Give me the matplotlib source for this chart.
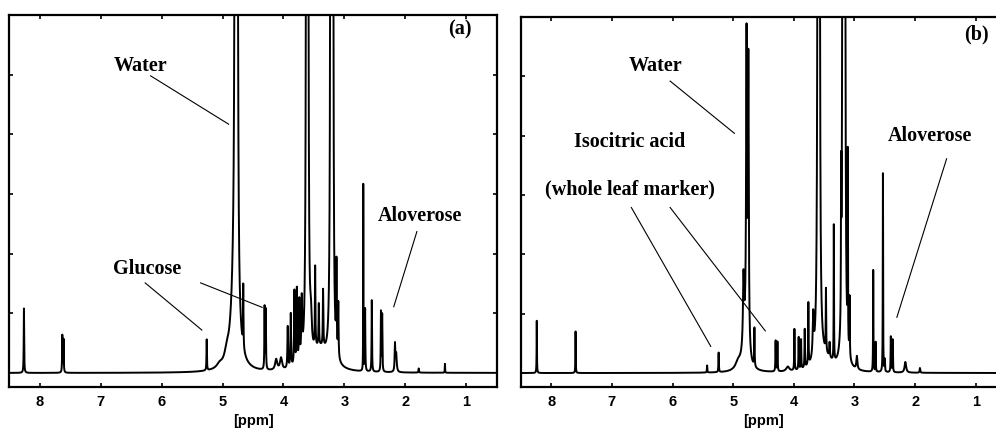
import numpy as np
import matplotlib
matplotlib.use("Agg")
import matplotlib.pyplot as plt

# peak tables: position [ppm], height, half width [ppm]
# (a) gel
ppm_a = [8.26, 7.63, 7.61, 5.26, 4.93, 4.80, 4.79, 4.76, 4.66, 4.31, 4.29, 4.12, 4.04,
         3.93, 3.88, 3.82, 3.78, 3.74, 3.70, 3.62, 3.60, 3.55, 3.48, 3.42, 3.35,
         3.22, 3.19, 3.23, 3.13, 3.10, 3.40, 2.69, 2.66, 2.55, 2.40, 2.38, 2.17,
         2.15, 1.78, 1.35, 5.05]
h_a = [1.08, 0.62, 0.55, 0.52, 0.15, 1.5, 22.0, 20.0, 1.05, 1.05, 1.0, 0.18, 0.2,
       0.7, 0.9, 1.25, 1.25, 1.0, 0.95, 30.0, 26.0, 0.5, 1.35, 0.7, 0.95,
       30.0, 24.0, 2.6, 1.45, 0.9, 0.35, 3.15, 1.05, 1.2, 1.0, 0.95, 0.45,
       0.3, 0.07, 0.15, 0.06]
w_a = [0.004, 0.004, 0.004, 0.004, 0.04, 0.06, 0.008, 0.008, 0.004, 0.004, 0.004, 0.02, 0.02,
       0.006, 0.006, 0.006, 0.006, 0.006, 0.008, 0.006, 0.006, 0.015, 0.005, 0.005, 0.005,
       0.006, 0.006, 0.006, 0.005, 0.005, 0.15, 0.002, 0.004, 0.004, 0.004, 0.004, 0.006,
       0.01, 0.005, 0.003, 0.05]

# (b) whole leaf
ppm_b = [8.24, 7.60, 5.43, 5.24, 4.92, 4.80, 4.83, 4.78, 4.75, 4.65, 4.30, 4.27, 4.10,
         3.99, 3.92, 3.88, 3.82, 3.76, 3.68, 3.60, 3.58, 3.47, 3.41, 3.34, 3.22,
         3.19, 3.16, 3.11, 3.08, 2.96, 2.69, 2.65, 2.53, 2.50, 2.40, 2.37, 2.16,
         1.92, 3.50]
h_b = [0.88, 0.7, 0.12, 0.33, 0.12, 0.6, 1.1, 5.0, 4.8, 0.65, 0.52, 0.5, 0.08,
       0.7, 0.55, 0.5, 0.65, 1.05, 0.7, 30.0, 28.0, 1.05, 0.25, 2.3, 2.25,
       30.0, 28.0, 3.2, 1.0, 0.22, 1.72, 0.5, 3.36, 0.2, 0.6, 0.55, 0.18,
       0.08, 0.22]
w_b = [0.003, 0.003, 0.004, 0.004, 0.05, 0.05, 0.01, 0.008, 0.008, 0.004, 0.004, 0.004, 0.03,
       0.004, 0.004, 0.004, 0.004, 0.004, 0.01, 0.006, 0.006, 0.004, 0.006, 0.003, 0.003,
       0.006, 0.006, 0.003, 0.004, 0.01, 0.003, 0.003, 0.003, 0.004, 0.004, 0.004, 0.015,
       0.006, 0.15]

ticks = [8, 7, 6, 5, 4, 3, 2, 1]


def spectrum(x, pos, hts, wid):
    y = np.zeros_like(x)
    for p, h, w in zip(pos, hts, wid):
        y += h * w ** 2 / ((x - p) ** 2 + w ** 2)
    return y


serif = {"family": "Liberation Serif", "weight": "bold", "size": 14.5}
W, H = 996, 430
fig = plt.figure(figsize=(W / 100, H / 100), dpi=100)

ax_a = fig.add_axes([9.3 / W, 43 / H, 487.4 / W, 372 / H])
ax_b = fig.add_axes([521 / W, 43 / H, 485 / W, 370 / H])

x = np.linspace(8.5, 0.5, 12000)
for ax, pos, hts, wid in [(ax_a, ppm_a, h_a, w_a), (ax_b, ppm_b, h_b, w_b)]:
    ax.plot(x, spectrum(x, pos, hts, wid), color="black", lw=1.4)
    ax.set_xlim(8.5, 0.5)
    ax.set_ylim(-0.235, 6.0)
    ax.set_xticks(ticks)
    ax.set_xticklabels([str(t) for t in ticks], fontfamily="Liberation Sans",
                       fontweight="bold", fontsize=10.5)
    ax.set_yticks([1, 2, 3, 4, 5])
    ax.set_yticklabels([])
    ax.tick_params(direction="in", length=3, width=1.2, top=True, right=True, pad=6)
    for s in ax.spines.values():
        s.set_linewidth(1.6)
    ax.set_xlabel("[ppm]", fontfamily="Liberation Sans", fontweight="bold",
                  fontsize=10.5, labelpad=3)

# panel (a) labels
ax_a.text(1.10, 5.75, "(a)", ha="center", va="center", **serif)
ax_a.text(6.35, 5.15, "Water", ha="center", va="center", **serif)
ax_a.plot([6.18, 4.90], [4.98, 4.17], color="black", lw=0.8)
ax_a.text(6.24, 1.75, "Glucose", ha="center", va="center", **serif)
ax_a.plot([6.27, 5.34], [1.51, 0.72], color="black", lw=0.8)
ax_a.plot([5.36, 4.35], [1.51, 1.10], color="black", lw=0.8)
ax_a.text(1.76, 2.63, "Aloverose", ha="center", va="center", **serif)
ax_a.plot([1.81, 2.19], [2.37, 1.11], color="black", lw=0.8)

# panel (b) labels
ax_b.text(0.99, 5.71, "(b)", ha="center", va="center", **serif)
ax_b.text(6.28, 5.18, "Water", ha="center", va="center", **serif)
ax_b.plot([6.04, 4.98], [4.92, 4.04], color="black", lw=0.8)
ax_b.text(6.71, 3.89, "Isocitric acid", ha="center", va="center", **serif)
ax_b.text(6.71, 3.09, "(whole leaf marker)", ha="center", va="center", **serif)
ax_b.plot([6.68, 5.37], [2.79, 0.45], color="black", lw=0.8)
ax_b.plot([6.04, 4.47], [2.79, 0.71], color="black", lw=0.8)
ax_b.text(1.76, 3.99, "Aloverose", ha="center", va="center", **serif)
ax_b.plot([1.48, 2.30], [3.61, 0.94], color="black", lw=0.8)

fig.savefig("out.png", dpi=100)
